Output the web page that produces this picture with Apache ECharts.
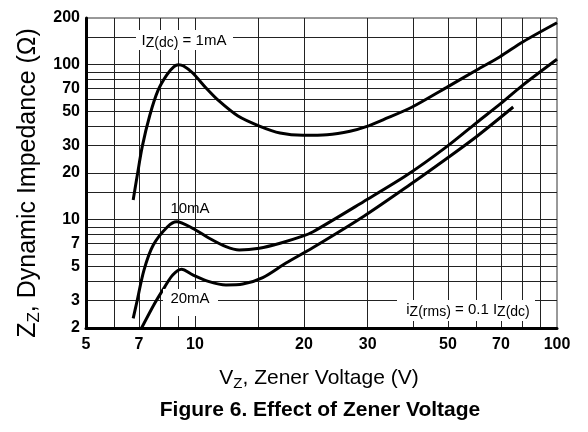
<!DOCTYPE html>
<html><head><meta charset="utf-8">
<script src="https://cdn.jsdelivr.net/npm/echarts@6/dist/echarts.min.js"></script>
<style>html,body{margin:0;padding:0;background:#fff}#c{width:588px;height:432px}</style>
</head><body><div id="c"></div>
<script>
// Axis ticks / labels
const xTickLabels = [5, 7, 10, 20, 30, 50, 70, 100];
const yTickLabels = [2, 3, 5, 7, 10, 20, 30, 50, 70, 100, 200];
const xGridValues = [6, 7, 8, 9, 10, 15, 20, 30, 40, 50, 60, 70, 80, 90];
const yGridValues = [3, 4, 5, 6, 7, 8, 9, 10, 15, 20, 30, 40, 50, 60, 70, 80, 90, 100, 150];

// IZ(dc) = 1 mA
const vz1mA = [6.75, 6.93, 7.15, 7.5, 7.9, 8.36, 8.75, 9.0, 9.3, 9.86, 10.73, 11.65, 13.15, 15.12, 17.18, 19.88, 23.16, 26.81, 29.87, 33.07, 39.7, 49.6, 60, 69.6, 80.6, 100];
const zz1mA = [13.4, 19.4, 29.6, 47, 68, 86, 97, 100, 98, 88.3, 70.7, 58.3, 46.6, 40, 36.2, 35, 35.3, 37.2, 40, 44.1, 53.1, 71.4, 92.4, 112.6, 140.7, 186.5];
// IZ(dc) = 10 mA
const vz10mA = [6.75, 6.9, 7.23, 7.67, 8.4, 8.9, 9.86, 10.95, 12.18, 13.25, 15.06, 17.18, 19.92, 21.2, 29.2, 38.5, 49.6, 60, 70, 80, 100];
const zz10mA = [2.31, 2.9, 4.73, 6.86, 9.0, 9.7, 8.79, 7.58, 6.69, 6.37, 6.54, 7.04, 7.85, 8.36, 13.06, 19.4, 29.6, 42.3, 56.2, 73, 108.3];
// IZ(dc) = 20 mA
const vz20mA = [7.12, 7.75, 8.26, 8.68, 9.18, 9.86, 10.95, 12.18, 13.55, 15.39, 17.84, 21.2, 29.2, 39.3, 49.6, 60, 75.7];
const zz20mA = [2.0, 2.9, 3.7, 4.4, 4.78, 4.4, 3.98, 3.79, 3.84, 4.23, 5.25, 6.61, 10.48, 16.85, 24.8, 34.4, 53.3];

const pairs = (xs, ys) => xs.map((v, i) => [v, ys[i]]);
const SANS = "'Liberation Sans', Arial, sans-serif";
const fmt = v => String(Math.round(v * 1000) / 1000);

const chart = echarts.init(document.getElementById('c'), null, {renderer: 'canvas'});

const lineSeries = (name, data) => ({
  name, type: 'line', data, showSymbol: false, smooth: 0.3,
  lineStyle: {color: '#000', width: 3}, z: 5, silent: true
});

const subRich = (size, subSize) => ({
  n: {fontFamily: SANS, fontSize: size, color: '#000', lineHeight: size + 4, verticalAlign: 'middle'},
  s: {fontFamily: SANS, fontSize: subSize, color: '#000', verticalAlign: 'bottom', lineHeight: subSize + 1}
});

chart.setOption({
  animation: false,
  backgroundColor: '#fff',
  grid: {left: 86, top: 18, right: 31, bottom: 104, show: true, borderColor: '#333', borderWidth: 1},
  xAxis: {
    type: 'log', logBase: 10, min: 5, max: 100,
    axisLine: {onZero: false, lineStyle: {color: '#000', width: 3}},
    axisTick: {show: false, customValues: xGridValues},
    splitLine: {show: true, lineStyle: {color: '#222', width: 1}},
    axisLabel: {customValues: xTickLabels, formatter: fmt, margin: 9, color: '#000',
      fontFamily: SANS, fontSize: 16, fontWeight: 'bold'}
  },
  yAxis: {
    type: 'log', logBase: 10, min: 2, max: 200,
    axisLine: {onZero: false, lineStyle: {color: '#000', width: 3}},
    axisTick: {show: false, customValues: yGridValues},
    splitLine: {show: true, lineStyle: {color: '#222', width: 1}},
    axisLabel: {customValues: yTickLabels, formatter: fmt, margin: 6, color: '#000',
      fontFamily: SANS, fontSize: 16, fontWeight: 'bold'}
  },
  series: [
    lineSeries('1mA', pairs(vz1mA, zz1mA)),
    lineSeries('10mA', pairs(vz10mA, zz10mA)),
    lineSeries('20mA', pairs(vz20mA, zz20mA))
  ],
  graphic: [
    // annotation boxes
    {type: 'rect', z: 50, shape: {x: 136, y: 30, width: 97, height: 20}, style: {fill: '#fff'}},
    {type: 'text', z: 51, x: 184, y: 41, style: {text: '{n|I}{s|Z(dc)}{n| = 1mA}', rich: subRich(15, 14), align: 'center', verticalAlign: 'middle'}},
    {type: 'text', z: 51, x: 190, y: 208.5, style: {text: '10mA', fontFamily: SANS, fontSize: 15, fill: '#000', align: 'center', verticalAlign: 'middle'}},
    {type: 'rect', z: 50, shape: {x: 163, y: 289, width: 55, height: 27}, style: {fill: '#fff'}},
    {type: 'text', z: 51, x: 190, y: 299, style: {text: '20mA', fontFamily: SANS, fontSize: 15, fill: '#000', align: 'center', verticalAlign: 'middle'}},
    {type: 'rect', z: 50, shape: {x: 397, y: 300, width: 138, height: 21}, style: {fill: '#fff'}},
    {type: 'text', z: 51, x: 468, y: 310, style: {text: '{n|i}{s|Z(rms)}{n| = 0.1 I}{s|Z(dc)}', rich: subRich(15, 14), align: 'center', verticalAlign: 'middle'}},
    // axis titles
    {type: 'text', z: 51, x: 319, y: 378, style: {text: '{n|V}{s|Z}{n|, Zener Voltage (V)}', align: 'center', verticalAlign: 'middle',
      rich: {n: {fontFamily: SANS, fontSize: 21, color: '#000', lineHeight: 26, verticalAlign: 'middle'},
             s: {fontFamily: SANS, fontSize: 15, color: '#000', lineHeight: 16, verticalAlign: 'bottom'}}}},
    {type: 'text', z: 51, x: 28, y: 183, rotation: Math.PI / 2, style: {text: '{n|Z}{s|Z}{n|, Dynamic Impedance (Ω)}', align: 'center', verticalAlign: 'middle',
      rich: {n: {fontFamily: SANS, fontSize: 25, color: '#000', lineHeight: 30, verticalAlign: 'middle'},
             s: {fontFamily: SANS, fontSize: 17, color: '#000', lineHeight: 18, verticalAlign: 'bottom'}}}},
    {type: 'text', z: 51, x: 320, y: 410, style: {text: 'Figure 6. Effect of Zener Voltage', fontFamily: SANS, fontSize: 21, fontWeight: 'bold', fill: '#000', align: 'center', verticalAlign: 'middle'}}
  ]
});
</script></body></html>
